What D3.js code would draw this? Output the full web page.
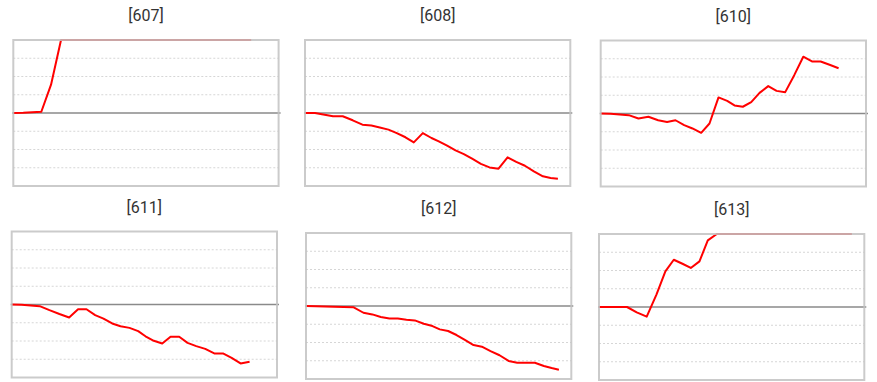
<!DOCTYPE html>
<html><head><meta charset="utf-8">
<script src="https://cdn.jsdelivr.net/npm/d3@7"></script>
<style>html,body{margin:0;padding:0;background:#fff;} svg{display:block;}</style>
</head><body>
<svg id="chart" width="877" height="382"></svg>
<script>
// ---- data ----
const panelNames = ["[607]", "[608]", "[610]", "[611]", "[612]", "[613]"];
// x positions (in sampling steps)
const steps = [0, 1.15, 3.23, 4.35, 5.5, 6.62, 7.65, 8.62, 9.62, 10.58, 11.58, 12.54, 13.58, 14.58,
  15.42, 16.38, 17.35, 18.31, 19.31, 20.27, 21.27, 22.31, 23.35, 24.35, 25.35, 26.38, 27.42, 28.31, 29.15];
const s607 = [0, 0.1, 0.7, 15.5, 44.1, 47.9, 52.3, 50.8, 55.6, 58.2, 56.9, 61.4, 63.0, 60.7, 65.8, 68.3,
  66.1, 70.4, 72.9, 71.2, 74.8, 77.5, 75.1, 79.6, 82.3, 80.0, 84.7];
const s608 = [0, 0, -1.8, -1.8, -4.0, -6.4, -6.9, -7.9, -9.1, -11.0, -13.3, -16.1, -11.0, -13.7, -15.5,
  -17.9, -20.5, -22.5, -25.2, -27.9, -29.8, -30.5, -24.3, -26.8, -28.9, -32.0, -34.7, -35.6, -36.0];
const s610 = [0, -0.2, -0.9, -2.7, -1.8, -3.7, -4.6, -3.7, -6.4, -8.2, -10.6, -5.5, 8.8, 6.9, 4.4, 3.7,
  6.2, 11.3, 15.0, 12.4, 11.7, 21.0, 31.1, 28.5, 28.5, 26.7, 24.8];
const s611 = [0, -0.1, -0.9, -3.1, -5.2, -7.1, -2.6, -2.6, -5.8, -7.7, -10.4, -11.9, -12.8, -14.6, -17.4,
  -19.9, -21.4, -17.7, -17.7, -21.0, -22.8, -24.3, -26.8, -26.8, -29.2, -32.3, -31.4];
const s612 = [0, -0.1, -0.4, -0.5, -0.7, -3.7, -4.6, -6.0, -6.9, -6.9, -7.5, -7.9, -9.7, -11.0, -12.8,
  -13.7, -15.9, -18.6, -21.4, -22.3, -24.7, -27.0, -30.1, -31.1, -31.1, -31.1, -32.9, -34.0, -34.9];
const s613 = [0, 0, 0, -2.9, -5.3, 6.8, 19.5, 25.9, 23.7, 21.4, 25.0, 36.5, 41.2, 44.5, 47.0, 45.8,
  49.3, 52.1, 50.6, 54.0, 56.8, 55.2, 58.9, 61.5, 60.1, 63.7, 66.2, 64.8, 68.0];
const seriesList = [s607, s608, s610, s611, s612, s613];
const yDomain = [-40, 40];
const xDomain = [0, 30.58];
const gridTicks = [-30, -20, -10, 10, 20, 30];

// ---- layout ----
const panelLeft = [13.3, 305, 600.7, 11.7, 306, 599];
const panelTop = [40, 40, 40.5, 231.5, 233, 234];
const pw = 265.3, ph = 146;

const svg = d3.select("#chart");
const x = d3.scaleLinear().domain(xDomain).range([0, pw]);
const y = d3.scaleLinear().domain(yDomain).range([ph, 0]).clamp(true);
const line = d3.line().x(d => x(d[0])).y(d => y(d[1]));

panelNames.forEach((name, i) => {
  const g = svg.append("g").attr("transform", `translate(${panelLeft[i]},${panelTop[i]})`);
  g.append("text")
    .attr("x", pw / 2).attr("y", -19)
    .attr("text-anchor", "middle")
    .attr("font-family", "Roboto, 'Open Sans', sans-serif")
    .attr("font-size", 16)
    .attr("fill", "#333")
    .text(name);
  g.selectAll("line.grid").data(gridTicks).enter().append("line")
    .attr("class", "grid")
    .attr("x1", 0).attr("x2", pw)
    .attr("y1", d => y(d)).attr("y2", d => y(d))
    .attr("stroke", "#d6d6d6").attr("stroke-width", 1)
    .attr("stroke-dasharray", "2,2");
  g.append("line")
    .attr("x1", -1).attr("x2", pw + 2)
    .attr("y1", y(0)).attr("y2", y(0))
    .attr("stroke", "#8a8a8a").attr("stroke-width", 1.5);
  const data = seriesList[i].map((v, k) => [steps[k], v]);
  g.append("path")
    .datum(data)
    .attr("d", line)
    .attr("fill", "none")
    .attr("stroke", "#ff0000")
    .attr("stroke-width", 2)
    .attr("stroke-linejoin", "round");
  g.append("rect")
    .attr("x", 0).attr("y", 0).attr("width", pw).attr("height", ph)
    .attr("fill", "none")
    .attr("stroke", "#c2c2c2").attr("stroke-opacity", 0.85)
    .attr("stroke-width", 2);
});
</script>
</body></html>
